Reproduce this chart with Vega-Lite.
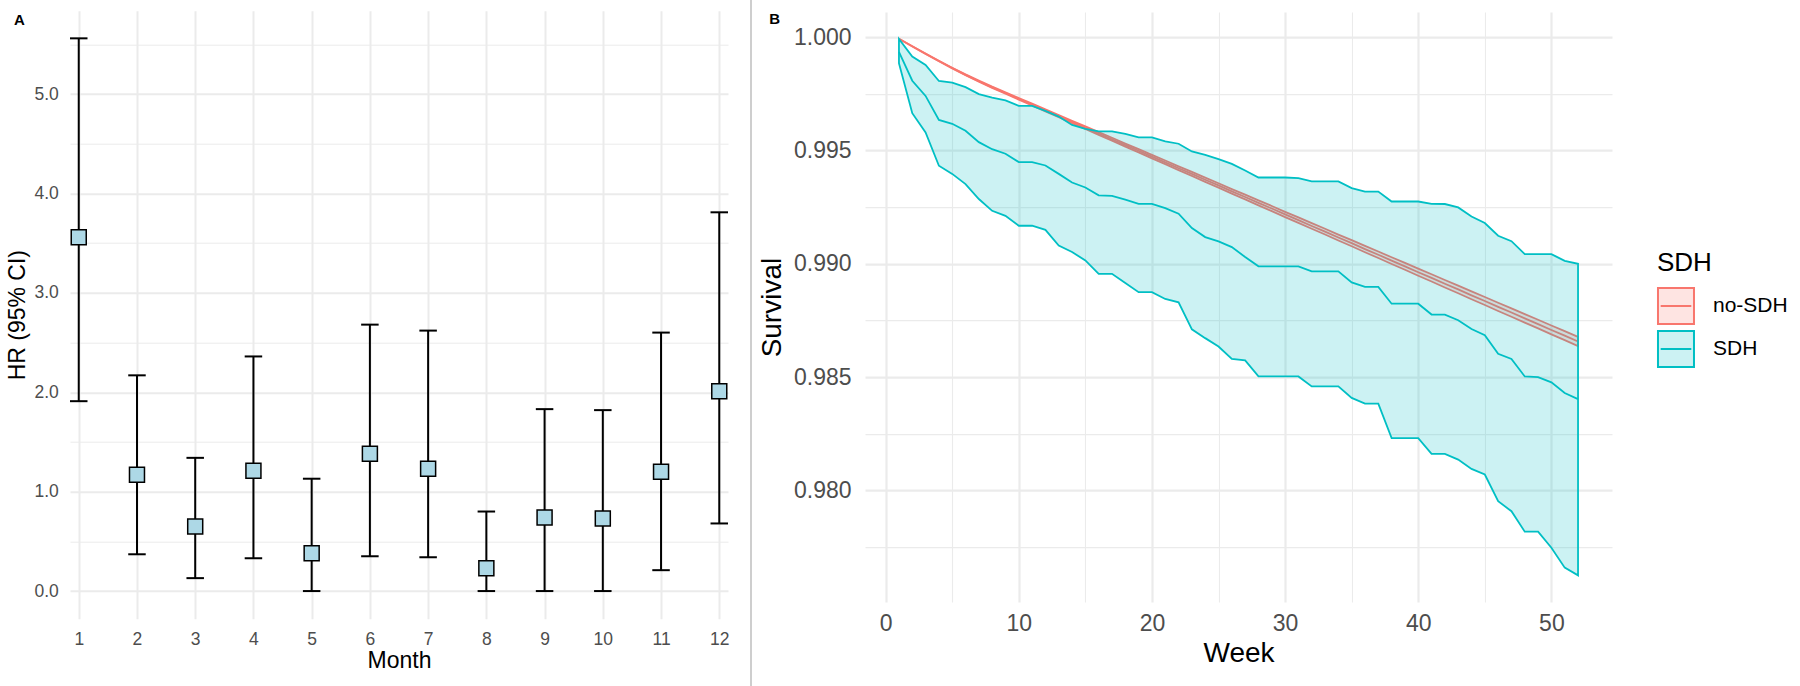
{
  "$schema": "https://vega.github.io/schema/vega-lite/v6.json",
  "background": "white",
  "padding": {"left": 6, "top": -4.8, "right": 0, "bottom": 0},
  "spacing": 5,
  "center": true,
  "datasets": {
    "hr": [
      {"month": 1, "hr": 3.56, "lo": 1.91, "hi": 5.56},
      {"month": 2, "hr": 1.17, "lo": 0.37, "hi": 2.17},
      {"month": 3, "hr": 0.65, "lo": 0.13, "hi": 1.34},
      {"month": 4, "hr": 1.21, "lo": 0.33, "hi": 2.36},
      {"month": 5, "hr": 0.38, "lo": 0.0, "hi": 1.13},
      {"month": 6, "hr": 1.38, "lo": 0.35, "hi": 2.68},
      {"month": 7, "hr": 1.23, "lo": 0.34, "hi": 2.62},
      {"month": 8, "hr": 0.23, "lo": 0.0, "hi": 0.8},
      {"month": 9, "hr": 0.74, "lo": 0.0, "hi": 1.83},
      {"month": 10, "hr": 0.73, "lo": 0.0, "hi": 1.82},
      {"month": 11, "hr": 1.2, "lo": 0.21, "hi": 2.6},
      {"month": 12, "hr": 2.01, "lo": 0.68, "hi": 3.81}
    ],
    "surv": [
      {"week": 1, "group": "no-SDH", "surv": 0.99993, "lo": 0.99993, "hi": 0.99993},
      {"week": 2, "group": "no-SDH", "surv": 0.9996, "lo": 0.999596, "hi": 0.999604},
      {"week": 3, "group": "no-SDH", "surv": 0.99927, "lo": 0.999262, "hi": 0.999278},
      {"week": 4, "group": "no-SDH", "surv": 0.99895, "lo": 0.998938, "hi": 0.998962},
      {"week": 5, "group": "no-SDH", "surv": 0.99864, "lo": 0.998624, "hi": 0.998656},
      {"week": 6, "group": "no-SDH", "surv": 0.99834, "lo": 0.99832, "hi": 0.99836},
      {"week": 7, "group": "no-SDH", "surv": 0.99806, "lo": 0.998036, "hi": 0.998084},
      {"week": 8, "group": "no-SDH", "surv": 0.99779, "lo": 0.997762, "hi": 0.997818},
      {"week": 9, "group": "no-SDH", "surv": 0.99754, "lo": 0.997508, "hi": 0.997572},
      {"week": 10, "group": "no-SDH", "surv": 0.99728, "lo": 0.997244, "hi": 0.997316},
      {"week": 11, "group": "no-SDH", "surv": 0.99703, "lo": 0.99699, "hi": 0.99707},
      {"week": 12, "group": "no-SDH", "surv": 0.99677, "lo": 0.996726, "hi": 0.996814},
      {"week": 13, "group": "no-SDH", "surv": 0.99652, "lo": 0.996472, "hi": 0.996568},
      {"week": 14, "group": "no-SDH", "surv": 0.99626, "lo": 0.996208, "hi": 0.996312},
      {"week": 15, "group": "no-SDH", "surv": 0.99601, "lo": 0.995954, "hi": 0.996066},
      {"week": 16, "group": "no-SDH", "surv": 0.99575, "lo": 0.99569, "hi": 0.99581},
      {"week": 17, "group": "no-SDH", "surv": 0.9955, "lo": 0.995436, "hi": 0.995564},
      {"week": 18, "group": "no-SDH", "surv": 0.99524, "lo": 0.995172, "hi": 0.995308},
      {"week": 19, "group": "no-SDH", "surv": 0.99499, "lo": 0.994918, "hi": 0.995062},
      {"week": 20, "group": "no-SDH", "surv": 0.99473, "lo": 0.994654, "hi": 0.994806},
      {"week": 21, "group": "no-SDH", "surv": 0.99448, "lo": 0.9944, "hi": 0.99456},
      {"week": 22, "group": "no-SDH", "surv": 0.99422, "lo": 0.994136, "hi": 0.994304},
      {"week": 23, "group": "no-SDH", "surv": 0.99397, "lo": 0.993882, "hi": 0.994058},
      {"week": 24, "group": "no-SDH", "surv": 0.99371, "lo": 0.993618, "hi": 0.993802},
      {"week": 25, "group": "no-SDH", "surv": 0.99346, "lo": 0.993364, "hi": 0.993556},
      {"week": 26, "group": "no-SDH", "surv": 0.9932, "lo": 0.9931, "hi": 0.9933},
      {"week": 27, "group": "no-SDH", "surv": 0.99295, "lo": 0.992846, "hi": 0.993054},
      {"week": 28, "group": "no-SDH", "surv": 0.99269, "lo": 0.992582, "hi": 0.992798},
      {"week": 29, "group": "no-SDH", "surv": 0.99244, "lo": 0.992328, "hi": 0.992552},
      {"week": 30, "group": "no-SDH", "surv": 0.99218, "lo": 0.992064, "hi": 0.992296},
      {"week": 31, "group": "no-SDH", "surv": 0.99193, "lo": 0.99181, "hi": 0.99205},
      {"week": 32, "group": "no-SDH", "surv": 0.99167, "lo": 0.991546, "hi": 0.991794},
      {"week": 33, "group": "no-SDH", "surv": 0.99142, "lo": 0.991292, "hi": 0.991548},
      {"week": 34, "group": "no-SDH", "surv": 0.99116, "lo": 0.991028, "hi": 0.991292},
      {"week": 35, "group": "no-SDH", "surv": 0.99091, "lo": 0.990774, "hi": 0.991046},
      {"week": 36, "group": "no-SDH", "surv": 0.99065, "lo": 0.99051, "hi": 0.99079},
      {"week": 37, "group": "no-SDH", "surv": 0.9904, "lo": 0.990256, "hi": 0.990544},
      {"week": 38, "group": "no-SDH", "surv": 0.99014, "lo": 0.989992, "hi": 0.990288},
      {"week": 39, "group": "no-SDH", "surv": 0.98989, "lo": 0.989738, "hi": 0.990042},
      {"week": 40, "group": "no-SDH", "surv": 0.98963, "lo": 0.989474, "hi": 0.989786},
      {"week": 41, "group": "no-SDH", "surv": 0.98938, "lo": 0.98922, "hi": 0.98954},
      {"week": 42, "group": "no-SDH", "surv": 0.98912, "lo": 0.988956, "hi": 0.989284},
      {"week": 43, "group": "no-SDH", "surv": 0.98887, "lo": 0.988702, "hi": 0.989038},
      {"week": 44, "group": "no-SDH", "surv": 0.98861, "lo": 0.988438, "hi": 0.988782},
      {"week": 45, "group": "no-SDH", "surv": 0.98836, "lo": 0.988184, "hi": 0.988536},
      {"week": 46, "group": "no-SDH", "surv": 0.9881, "lo": 0.98792, "hi": 0.98828},
      {"week": 47, "group": "no-SDH", "surv": 0.98785, "lo": 0.987666, "hi": 0.988034},
      {"week": 48, "group": "no-SDH", "surv": 0.98759, "lo": 0.987402, "hi": 0.987778},
      {"week": 49, "group": "no-SDH", "surv": 0.98734, "lo": 0.987148, "hi": 0.987532},
      {"week": 50, "group": "no-SDH", "surv": 0.98708, "lo": 0.986884, "hi": 0.987276},
      {"week": 51, "group": "no-SDH", "surv": 0.98683, "lo": 0.98663, "hi": 0.98703},
      {"week": 52, "group": "no-SDH", "surv": 0.98657, "lo": 0.986366, "hi": 0.986774},
      {"week": 1, "group": "SDH", "surv": 0.99935, "lo": 0.99885, "hi": 0.99993},
      {"week": 2, "group": "SDH", "surv": 0.99808, "lo": 0.99665, "hi": 0.99915},
      {"week": 3, "group": "SDH", "surv": 0.99741, "lo": 0.9958, "hi": 0.99878},
      {"week": 4, "group": "SDH", "surv": 0.99635, "lo": 0.99433, "hi": 0.99807},
      {"week": 5, "group": "SDH", "surv": 0.99618, "lo": 0.99397, "hi": 0.998},
      {"week": 6, "group": "SDH", "surv": 0.99587, "lo": 0.99352, "hi": 0.9978},
      {"week": 7, "group": "SDH", "surv": 0.99537, "lo": 0.99286, "hi": 0.99749},
      {"week": 8, "group": "SDH", "surv": 0.99506, "lo": 0.99234, "hi": 0.99734},
      {"week": 9, "group": "SDH", "surv": 0.99486, "lo": 0.99212, "hi": 0.99721},
      {"week": 10, "group": "SDH", "surv": 0.99449, "lo": 0.99168, "hi": 0.99697},
      {"week": 11, "group": "SDH", "surv": 0.99449, "lo": 0.99168, "hi": 0.99697},
      {"week": 12, "group": "SDH", "surv": 0.99434, "lo": 0.9915, "hi": 0.99675},
      {"week": 13, "group": "SDH", "surv": 0.99397, "lo": 0.99081, "hi": 0.9965},
      {"week": 14, "group": "SDH", "surv": 0.99359, "lo": 0.99052, "hi": 0.99613},
      {"week": 15, "group": "SDH", "surv": 0.99337, "lo": 0.99015, "hi": 0.99596},
      {"week": 16, "group": "SDH", "surv": 0.99302, "lo": 0.98956, "hi": 0.99585},
      {"week": 17, "group": "SDH", "surv": 0.993, "lo": 0.98956, "hi": 0.99585},
      {"week": 18, "group": "SDH", "surv": 0.99283, "lo": 0.98915, "hi": 0.99574},
      {"week": 19, "group": "SDH", "surv": 0.99265, "lo": 0.98875, "hi": 0.99558},
      {"week": 20, "group": "SDH", "surv": 0.99265, "lo": 0.98875, "hi": 0.99558},
      {"week": 21, "group": "SDH", "surv": 0.99246, "lo": 0.98845, "hi": 0.9954},
      {"week": 22, "group": "SDH", "surv": 0.99221, "lo": 0.9883, "hi": 0.9953},
      {"week": 23, "group": "SDH", "surv": 0.99158, "lo": 0.98711, "hi": 0.99496},
      {"week": 24, "group": "SDH", "surv": 0.99118, "lo": 0.98672, "hi": 0.99481},
      {"week": 25, "group": "SDH", "surv": 0.99099, "lo": 0.98635, "hi": 0.99462},
      {"week": 26, "group": "SDH", "surv": 0.99074, "lo": 0.9858, "hi": 0.99441},
      {"week": 27, "group": "SDH", "surv": 0.9903, "lo": 0.98574, "hi": 0.99412},
      {"week": 28, "group": "SDH", "surv": 0.98989, "lo": 0.98503, "hi": 0.99381},
      {"week": 29, "group": "SDH", "surv": 0.98989, "lo": 0.98503, "hi": 0.99381},
      {"week": 30, "group": "SDH", "surv": 0.98989, "lo": 0.98503, "hi": 0.99381},
      {"week": 31, "group": "SDH", "surv": 0.98989, "lo": 0.98503, "hi": 0.99378},
      {"week": 32, "group": "SDH", "surv": 0.98967, "lo": 0.98459, "hi": 0.99364},
      {"week": 33, "group": "SDH", "surv": 0.98967, "lo": 0.98459, "hi": 0.99364},
      {"week": 34, "group": "SDH", "surv": 0.98967, "lo": 0.98459, "hi": 0.99364},
      {"week": 35, "group": "SDH", "surv": 0.98918, "lo": 0.98408, "hi": 0.99334},
      {"week": 36, "group": "SDH", "surv": 0.98898, "lo": 0.98383, "hi": 0.99319},
      {"week": 37, "group": "SDH", "surv": 0.98898, "lo": 0.98383, "hi": 0.99319},
      {"week": 38, "group": "SDH", "surv": 0.98824, "lo": 0.98231, "hi": 0.99275},
      {"week": 39, "group": "SDH", "surv": 0.98824, "lo": 0.98231, "hi": 0.99275},
      {"week": 40, "group": "SDH", "surv": 0.98824, "lo": 0.98231, "hi": 0.99275},
      {"week": 41, "group": "SDH", "surv": 0.98776, "lo": 0.98161, "hi": 0.99265},
      {"week": 42, "group": "SDH", "surv": 0.98776, "lo": 0.98161, "hi": 0.99264},
      {"week": 43, "group": "SDH", "surv": 0.98751, "lo": 0.98136, "hi": 0.99249},
      {"week": 44, "group": "SDH", "surv": 0.98712, "lo": 0.98095, "hi": 0.99209},
      {"week": 45, "group": "SDH", "surv": 0.98685, "lo": 0.9807, "hi": 0.9918},
      {"week": 46, "group": "SDH", "surv": 0.98603, "lo": 0.97952, "hi": 0.99124},
      {"week": 47, "group": "SDH", "surv": 0.9858, "lo": 0.97908, "hi": 0.991},
      {"week": 48, "group": "SDH", "surv": 0.98503, "lo": 0.97818, "hi": 0.99043},
      {"week": 49, "group": "SDH", "surv": 0.985, "lo": 0.97818, "hi": 0.99043},
      {"week": 50, "group": "SDH", "surv": 0.98477, "lo": 0.97747, "hi": 0.99043},
      {"week": 51, "group": "SDH", "surv": 0.9843, "lo": 0.97659, "hi": 0.99013},
      {"week": 52, "group": "SDH", "surv": 0.98403, "lo": 0.97625, "hi": 0.99}
    ]
  },
  "hconcat": [
    {
      "width": 658,
      "height": 608,
      "layer": [
        {
          "data": {"name": "hr"},
          "mark": {"type": "rule", "color": "#000000", "strokeWidth": 2},
          "encoding": {
            "x": {
              "field": "month", "type": "quantitative", "title": "Month",
              "scale": {"domain": [0.85, 12.15], "nice": false, "zero": false},
              "axis": {
                "values": [1, 1.5, 2, 2.5, 3, 3.5, 4, 4.5, 5, 5.5, 6, 6.5, 7, 7.5, 8, 8.5, 9, 9.5, 10, 10.5, 11, 11.5, 12],
                "labelExpr": "datum.value % 1 === 0 ? format(datum.value, 'd') : ''",
                "gridWidth": {"condition": {"test": "datum.value % 1 === 0", "value": 2}, "value": 1},
                "labelFontSize": 17.5, "labelPadding": 11.4, "titleFontSize": 23, "titlePadding": 2.1
              }
            },
            "y": {
              "field": "lo", "type": "quantitative", "title": "HR (95% CI)",
              "scale": {"domain": [-0.278, 5.838], "nice": false, "zero": false},
              "axis": {
                "values": [0, 0.5, 1, 1.5, 2, 2.5, 3, 3.5, 4, 4.5, 5, 5.5],
                "labelExpr": "datum.value % 1 === 0 ? format(datum.value, '.1f') : ''",
                "gridWidth": {"condition": {"test": "datum.value % 1 === 0", "value": 2}, "value": 1},
                "labelFontSize": 17.5, "labelPadding": 11.7, "titleFontSize": 23, "titlePadding": 4.5
              }
            },
            "y2": {"field": "hi"}
          }
        },
        {
          "data": {"name": "hr"},
          "mark": {"type": "tick", "orient": "horizontal", "size": 17.5, "thickness": 2, "color": "#000000", "opacity": 1},
          "encoding": {
            "x": {"field": "month", "type": "quantitative", "title": "Month"},
            "y": {"field": "lo", "type": "quantitative", "title": "HR (95% CI)"}
          }
        },
        {
          "data": {"name": "hr"},
          "mark": {"type": "tick", "orient": "horizontal", "size": 17.5, "thickness": 2, "color": "#000000", "opacity": 1},
          "encoding": {
            "x": {"field": "month", "type": "quantitative", "title": "Month"},
            "y": {"field": "hi", "type": "quantitative", "title": "HR (95% CI)"}
          }
        },
        {
          "data": {"name": "hr"},
          "mark": {"type": "point", "shape": "square", "size": 225, "filled": true, "fill": "#ADD8E6", "stroke": "#000000", "strokeWidth": 1.5, "opacity": 1},
          "encoding": {
            "x": {"field": "month", "type": "quantitative", "title": "Month"},
            "y": {"field": "hr", "type": "quantitative", "title": "HR (95% CI)"}
          }
        },
        {
          "data": {"values": [{"panel": "A", "month": -0.112, "pos": 5.741}]},
          "mark": {"type": "text", "align": "left", "baseline": "middle", "fontSize": 15, "fontWeight": "bold", "color": "#000000", "clip": false},
          "encoding": {
            "x": {"field": "month", "type": "quantitative", "title": "Month"},
            "y": {"field": "pos", "type": "quantitative", "title": "HR (95% CI)"},
            "text": {"field": "panel", "type": "nominal"}
          }
        }
      ]
    },
    {
      "width": 17.6,
      "height": 689.3,
      "data": {"values": [{}]},
      "mark": {"type": "rule", "color": "#BEBEBE", "strokeWidth": 1.5},
      "encoding": {
        "x": {"datum": 0.909, "type": "quantitative", "scale": {"domain": [0, 1]}, "axis": null},
        "y": {"datum": 0, "type": "quantitative", "scale": {"domain": [0, 1]}, "axis": null},
        "y2": {"datum": 1}
      }
    },
    {
      "width": 747,
      "height": 590,
      "layer": [
        {
          "data": {"name": "surv"},
          "transform": [{"filter": "datum.group === 'no-SDH'"}],
          "mark": {"type": "area", "fillOpacity": 0.2, "stroke": "#F8766D", "strokeWidth": 1.8, "strokeOpacity": 1},
          "encoding": {
            "x": {
              "field": "week", "type": "quantitative", "title": ["Week", ""],
              "scale": {"domain": [-1.55, 54.55], "nice": false, "zero": false},
              "axis": {
                "values": [0, 5, 10, 15, 20, 25, 30, 35, 40, 45, 50],
                "labelExpr": "datum.value % 10 === 0 ? format(datum.value, 'd') : ''",
                "gridWidth": {"condition": {"test": "datum.value % 10 === 0", "value": 2.2}, "value": 1.1},
                "labelFontSize": 23, "labelPadding": 10.9, "titleFontSize": 28, "titlePadding": 3.3, "titleLineHeight": 4
              }
            },
            "y": {
              "field": "lo", "type": "quantitative", "title": "Survival",
              "scale": {"domain": [0.97507, 1.00111], "nice": false, "zero": false},
              "axis": {
                "values": [0.9775, 0.98, 0.9825, 0.985, 0.9875, 0.99, 0.9925, 0.995, 0.9975, 1.0],
                "labelExpr": "abs(datum.value * 200 - round(datum.value * 200)) < 0.01 ? format(datum.value, '.3f') : ''",
                "gridWidth": {"condition": {"test": "abs(datum.value * 200 - round(datum.value * 200)) < 0.01", "value": 2.2}, "value": 1.1},
                "labelFontSize": 23, "labelPadding": 14, "titleFontSize": 28, "titlePadding": 6.5
              }
            },
            "y2": {"field": "hi"},
            "color": {
              "field": "group", "type": "nominal", "title": "SDH",
              "scale": {"domain": ["no-SDH", "SDH"], "range": ["#F8766D", "#00BFC4"]},
              "legend": {
                "orient": "none", "legendX": 1587, "legendY": 253.8, "padding": 0,
                "titleFontSize": 26, "titleFontWeight": "normal", "titleColor": "#000000", "titlePadding": 11,
                "labelFontSize": 21, "labelColor": "#000000", "labelOffset": 18,
                "symbolType": "M-1,-1H1V1H-1Z M-0.85,0H0.85", "symbolSize": 1296, "symbolStrokeWidth": 2,
                "rowPadding": -1,
                "encode": {"symbols": {"update": {"fill": {"scale": "color", "field": "value"}, "fillOpacity": {"value": 0.2}, "stroke": {"scale": "color", "field": "value"}, "strokeOpacity": {"value": 1}, "strokeWidth": {"value": 2}, "opacity": {"value": 1}}}}
              }
            }
          }
        },
        {
          "data": {"name": "surv"},
          "transform": [{"filter": "datum.group === 'no-SDH'"}],
          "mark": {"type": "line", "strokeWidth": 1.8},
          "encoding": {
            "x": {"field": "week", "type": "quantitative", "title": ["Week", ""]},
            "y": {"field": "surv", "type": "quantitative", "title": "Survival"},
            "color": {
              "field": "group", "type": "nominal", "title": "SDH",
              "scale": {"domain": ["no-SDH", "SDH"], "range": ["#F8766D", "#00BFC4"]},
              "legend": {
                "orient": "none", "legendX": 1587, "legendY": 253.8, "padding": 0,
                "titleFontSize": 26, "titleFontWeight": "normal", "titleColor": "#000000", "titlePadding": 11,
                "labelFontSize": 21, "labelColor": "#000000", "labelOffset": 18,
                "symbolType": "M-1,-1H1V1H-1Z M-0.85,0H0.85", "symbolSize": 1296, "symbolStrokeWidth": 2,
                "rowPadding": -1,
                "encode": {"symbols": {"update": {"fill": {"scale": "color", "field": "value"}, "fillOpacity": {"value": 0.2}, "stroke": {"scale": "color", "field": "value"}, "strokeOpacity": {"value": 1}, "strokeWidth": {"value": 2}, "opacity": {"value": 1}}}}
              }
            }
          }
        },
        {
          "data": {"name": "surv"},
          "transform": [{"filter": "datum.group === 'SDH'"}],
          "mark": {"type": "area", "fillOpacity": 0.2, "stroke": "#00BFC4", "strokeWidth": 1.8, "strokeOpacity": 1},
          "encoding": {
            "x": {"field": "week", "type": "quantitative", "title": ["Week", ""]},
            "y": {"field": "lo", "type": "quantitative", "title": "Survival"},
            "y2": {"field": "hi"},
            "color": {
              "field": "group", "type": "nominal", "title": "SDH",
              "scale": {"domain": ["no-SDH", "SDH"], "range": ["#F8766D", "#00BFC4"]},
              "legend": {
                "orient": "none", "legendX": 1587, "legendY": 253.8, "padding": 0,
                "titleFontSize": 26, "titleFontWeight": "normal", "titleColor": "#000000", "titlePadding": 11,
                "labelFontSize": 21, "labelColor": "#000000", "labelOffset": 18,
                "symbolType": "M-1,-1H1V1H-1Z M-0.85,0H0.85", "symbolSize": 1296, "symbolStrokeWidth": 2,
                "rowPadding": -1,
                "encode": {"symbols": {"update": {"fill": {"scale": "color", "field": "value"}, "fillOpacity": {"value": 0.2}, "stroke": {"scale": "color", "field": "value"}, "strokeOpacity": {"value": 1}, "strokeWidth": {"value": 2}, "opacity": {"value": 1}}}}
              }
            }
          }
        },
        {
          "data": {"name": "surv"},
          "transform": [{"filter": "datum.group === 'SDH'"}],
          "mark": {"type": "line", "strokeWidth": 1.8},
          "encoding": {
            "x": {"field": "week", "type": "quantitative", "title": ["Week", ""]},
            "y": {"field": "surv", "type": "quantitative", "title": "Survival"},
            "color": {
              "field": "group", "type": "nominal", "title": "SDH",
              "scale": {"domain": ["no-SDH", "SDH"], "range": ["#F8766D", "#00BFC4"]},
              "legend": {
                "orient": "none", "legendX": 1587, "legendY": 253.8, "padding": 0,
                "titleFontSize": 26, "titleFontWeight": "normal", "titleColor": "#000000", "titlePadding": 11,
                "labelFontSize": 21, "labelColor": "#000000", "labelOffset": 18,
                "symbolType": "M-1,-1H1V1H-1Z M-0.85,0H0.85", "symbolSize": 1296, "symbolStrokeWidth": 2,
                "rowPadding": -1,
                "encode": {"symbols": {"update": {"fill": {"scale": "color", "field": "value"}, "fillOpacity": {"value": 0.2}, "stroke": {"scale": "color", "field": "value"}, "strokeOpacity": {"value": 1}, "strokeWidth": {"value": 2}, "opacity": {"value": 1}}}}
              }
            }
          }
        },
        {
          "data": {"values": [{"panel": "B", "week": -8.737, "pos": 1.000823}]},
          "mark": {"type": "text", "align": "left", "baseline": "middle", "fontSize": 15, "fontWeight": "bold", "color": "#000000", "clip": false},
          "encoding": {
            "x": {"field": "week", "type": "quantitative", "title": ["Week", ""]},
            "y": {"field": "pos", "type": "quantitative", "title": "Survival"},
            "text": {"field": "panel", "type": "nominal"}
          }
        }
      ]
    }
  ],
  "config": {
    "font": "Liberation Sans",
    "view": {"stroke": null},
    "axis": {
      "domain": false,
      "ticks": false,
      "labelColor": "#4D4D4D",
      "titleColor": "#000000",
      "titleFontWeight": "normal",
      "gridColor": "#EBEBEB",
      "labelOverlap": false,
      "labelFlush": false
    },
    "legend": {"titleFontWeight": "normal"}
  }
}
